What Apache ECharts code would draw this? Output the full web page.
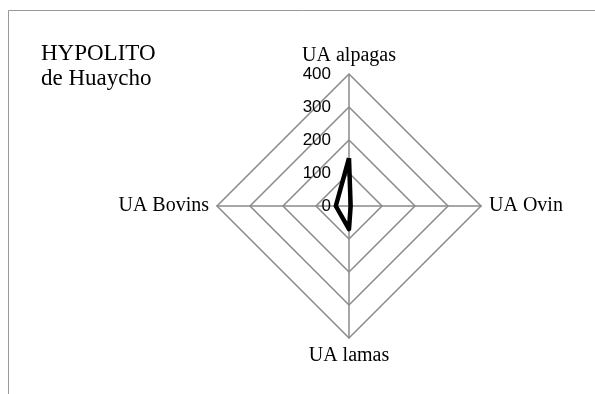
<!DOCTYPE html>
<html>
<head>
<meta charset="utf-8">
<script src="https://cdn.jsdelivr.net/npm/echarts@6/dist/echarts.min.js"></script>
<style>
  html, body { margin: 0; padding: 0; background: #fff; }
  #chart { width: 595px; height: 394px; }
</style>
</head>
<body>
<div id="chart"></div>
<script>
// axes of the radar; echarts goes round counter-clockwise from the top
var categories = ['UA alpagas', 'UA Bovins', 'UA lamas', 'UA Ovin'];
// values
var values = [145, 40, 70, 5];
var axisMax = 400;
var tickStep = 100;

var chart = echarts.init(document.getElementById('chart'));

var indicators = categories.map(function (name, i) {
    var ind = { name: name, min: 0, max: axisMax };
    // only the top axis carries tick labels
    if (i > 0) ind.axisLabel = { show: false };
    return ind;
});

var option = {
    backgroundColor: '#fff',
    animation: false,
    title: {
        text: 'HYPOLITO\nde Huaycho',
        left: 36,
        top: 36,
        textStyle: {
            fontFamily: "'Liberation Serif', serif",
            fontWeight: 'normal',
            fontSize: 23,
            color: '#000',
            lineHeight: 25
        }
    },
    graphic: [{
        // chart frame, cropped at right and bottom
        type: 'rect',
        shape: { x: 8.5, y: 10.5, width: 700, height: 500 },
        style: { fill: 'none', stroke: '#999', lineWidth: 1 },
        silent: true
    }],
    radar: {
        center: [349, 206],
        radius: 132,
        startAngle: 90,
        splitNumber: axisMax / tickStep,
        shape: 'polygon',
        indicator: indicators,
        axisName: {
            color: '#000',
            fontFamily: "'Liberation Serif', serif",
            fontSize: 20
        },
        nameGap: 8,
        splitLine: { lineStyle: { color: '#8a8a8a', width: 1.5 } },
        splitArea: { show: false },
        axisLine: { lineStyle: { color: '#8a8a8a', width: 1.5 } },
        axisTick: { show: false },
        axisLabel: {
            show: true,
            color: '#000',
            fontFamily: "'Liberation Sans', sans-serif",
            fontSize: 17,
            margin: 18
        }
    },
    series: [{
        type: 'radar',
        symbol: 'none',
        lineStyle: { color: '#000', width: 4.5 },
        data: [{ value: values, name: 'HYPOLITO de Huaycho' }]
    }]
};

chart.setOption(option);
</script>
</body>
</html>
